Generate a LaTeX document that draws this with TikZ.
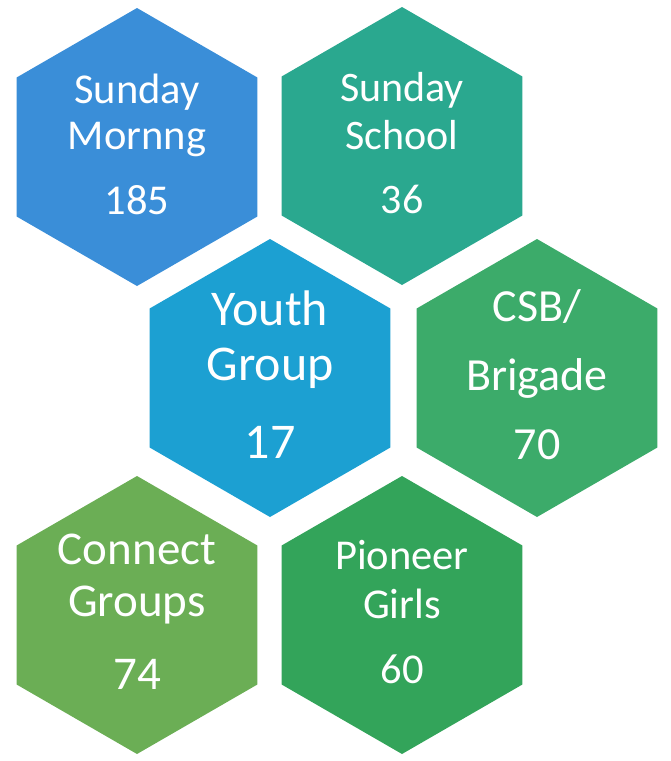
\documentclass[tikz,border=0pt]{standalone}
\usepackage{fontspec}
\setmainfont{Carlito}
\usetikzlibrary{shapes.geometric}
\definecolor{morning}{RGB}{58,142,216}
\definecolor{school}{RGB}{42,168,143}
\definecolor{youth}{RGB}{28,160,210}
\definecolor{brigade}{RGB}{60,171,106}
\definecolor{connect}{RGB}{107,174,85}
\definecolor{pioneer}{RGB}{51,164,90}
\begin{document}
\begin{tikzpicture}[x=1pt,y=-1pt,
  hexcell/.style={regular polygon, regular polygon sides=6, shape border rotate=30,
    minimum size=278pt, inner sep=0pt, fill=#1},
  hextext/.style={text=white, align=center, yshift=3pt}]
\useasboundingbox (0,0) rectangle (670,761);
% honeycomb
\node[hexcell=morning] (morning) at (137,147) {};
\node[hexcell=school] (school) at (402,146) {};
\node[hexcell=youth] (youth) at (270,378) {};
\node[hexcell=brigade] (brigade) at (537,378) {};
\node[hexcell=connect] (connect) at (137,615) {};
\node[hexcell=pioneer] (pioneer) at (402,615) {};
% labels
\node[hextext, font=\fontsize{42.5}{46}\selectfont] (morningtxt) at (morning) {Sunday\\Mornng\\[19pt]185};
\node[hextext, font=\fontsize{42}{48}\selectfont] (schooltxt) at (school) {Sunday\\School\\[16pt]36};
\node[hextext, font=\fontsize{50}{55}\selectfont] (youthtxt) at (youth) {Youth\\Group\\[23pt]17};
\node[hextext, font=\fontsize{46}{69}\selectfont] (brigadetxt) at (brigade) {CSB/\\Brigade\\70};
\node[hextext, font=\fontsize{47}{52}\selectfont] (connecttxt) at (connect) {Connect\\Groups\\[21pt]74};
\node[hextext, font=\fontsize{42.5}{49}\selectfont] (pioneertxt) at (pioneer) {Pioneer\\Girls\\[16pt]60};
\end{tikzpicture}
\end{document}
